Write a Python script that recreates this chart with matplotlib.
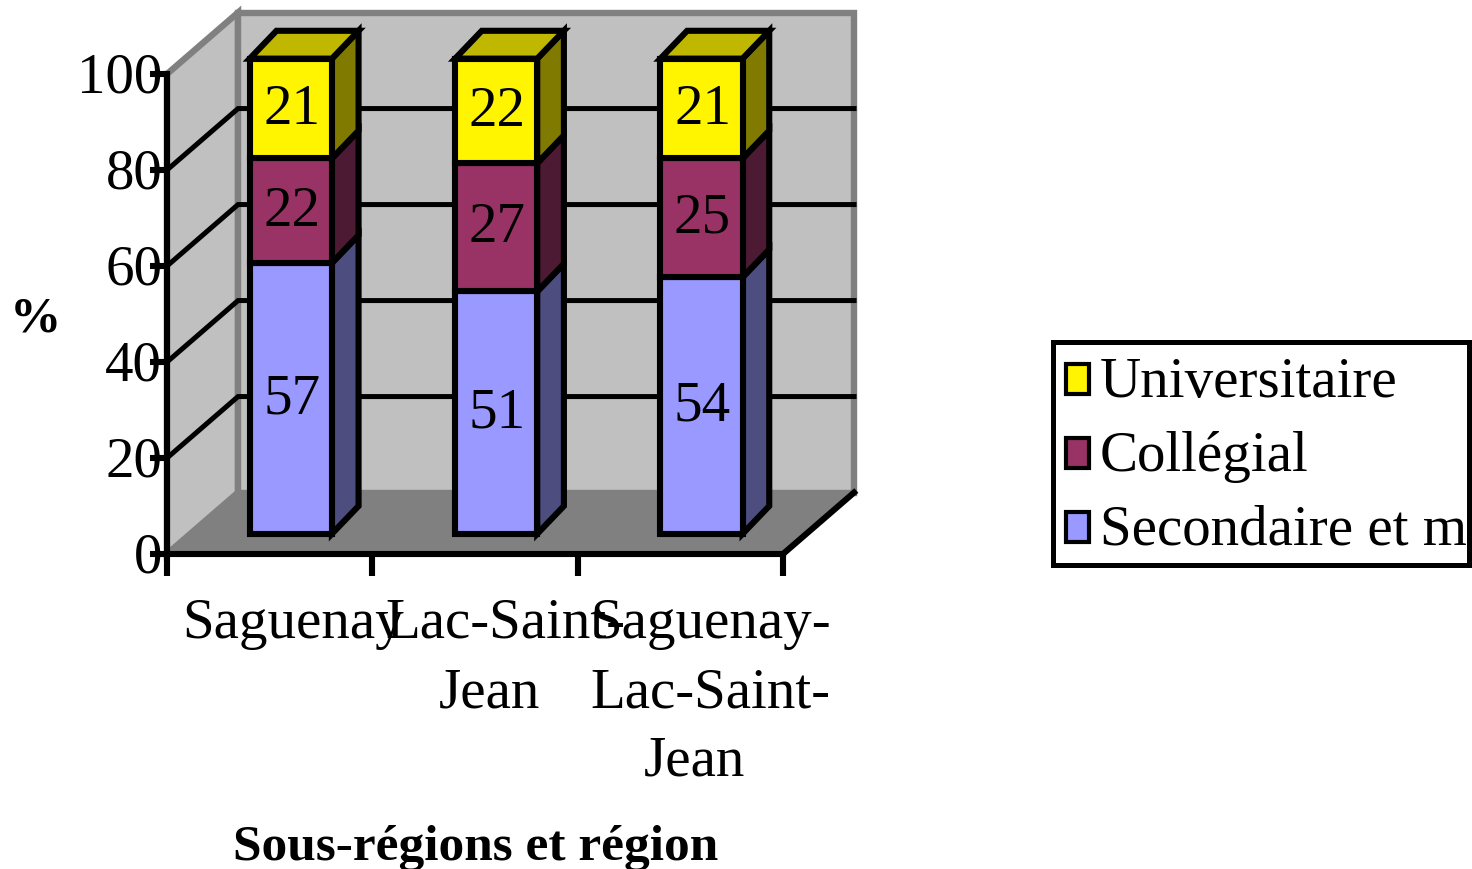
import matplotlib
matplotlib.use("Agg")
import matplotlib.pyplot as plt
from matplotlib.patches import Rectangle
from matplotlib.transforms import ScaledTranslation

plt.rcParams["font.family"] = ["Liberation Serif", "DejaVu Serif"]

categories = ["Saguenay", "Lac-Saint-\nJean", "Saguenay-\nLac-Saint-\nJean"]
secondaire = [57, 51, 54]
collegial = [22, 27, 25]
universitaire = [21, 22, 21]
series_names = ["Secondaire et m", "Collégial", "Universitaire"]
y_ticks = [0, 20, 40, 60, 80, 100]

front_colors = ["#9999ff", "#993366", "#fff500"]
side_colors = ["#4d4d80", "#4d1a33", "#807b00"]
top_color = "#c0b800"

W, H = 1472, 870
LW = 4.4
FS = 41

# 3d look: shear of the back plane and of the bars, in data units
wall_dx, wall_dy = 0.346, 12.8
bar_dx, bar_dy = 0.13, 5.8
bar_base = 4.2
bar_scale = 0.99
bar_width = 0.40
bar_shift = 0.603

fig = plt.figure(figsize=(W / 100, H / 100), dpi=100)
ax = fig.add_axes([167 / W, 1 - 555 / H, 616 / W, 480 / H])
ax.set_xlim(0, 3)
ax.set_ylim(0, 100)
ax.patch.set_visible(False)
ax.spines["top"].set_visible(False)
ax.spines["right"].set_visible(False)
ax.spines["left"].set_linewidth(LW)
ax.spines["bottom"].set_linewidth(LW)

# walls and floor
ax.fill([0, wall_dx, wall_dx, 0], [0, wall_dy, 100 + wall_dy, 100], fc="#c0c0c0", ec="#808080", lw=4.6, zorder=1, clip_on=False)
ax.fill([wall_dx, 3 + wall_dx, 3 + wall_dx, wall_dx], [wall_dy, wall_dy, 100 + wall_dy, 100 + wall_dy], fc="#c0c0c0", ec="#808080", lw=4.6, zorder=1, clip_on=False)
ax.fill([0, 3, 3 + wall_dx, wall_dx], [0, 0, wall_dy, wall_dy], fc="#808080", ec="#808080", lw=1, zorder=1.2, clip_on=False)
ax.plot([3, 3 + wall_dx], [0, wall_dy], color="black", lw=LW, zorder=1.3, clip_on=False)

# gridlines
for t in y_ticks[1:-1]:
    ax.plot([0, wall_dx, 3 + wall_dx], [t, t + wall_dy, t + wall_dy], color="black", lw=3.6, zorder=1.5, clip_on=False, solid_joinstyle="miter")

# stacked bars with side and top faces
positions = [i + bar_shift for i in range(len(categories))]
bottoms = [bar_base] * len(categories)
for k, values in enumerate([secondaire, collegial, universitaire]):
    heights = [v * bar_scale for v in values]
    bars = ax.bar(positions, heights, bar_width, bottom=bottoms, color=front_colors[k], edgecolor="black", linewidth=LW, zorder=5)
    for b in bars:
        b.set_clip_on(False)
    for p, b, h, v in zip(positions, bottoms, heights, values):
        right = p + bar_width / 2
        ax.fill([right, right + bar_dx, right + bar_dx, right], [b, b + bar_dy, b + h + bar_dy, b + h], fc=side_colors[k], ec="black", lw=LW, zorder=4, joinstyle="miter", clip_on=False)
        ax.text(p + 0.005, b + h / 2, str(v), ha="center", va="center", fontsize=FS, color="black", zorder=6)
        if k == 2:
            left = p - bar_width / 2
            ax.fill([left, right, right + bar_dx, left + bar_dx], [b + h, b + h, b + h + bar_dy, b + h + bar_dy], fc=top_color, ec="black", lw=LW, zorder=4, joinstyle="miter", clip_on=False)
    bottoms = [b + h for b, h in zip(bottoms, heights)]

# axes
ax.set_yticks(y_ticks)
ax.set_xticks([0, 1, 2, 3])
ax.set_xticklabels([])
ax.tick_params(axis="y", length=12, width=LW, labelsize=FS, pad=-8.5)
ax.tick_params(axis="x", length=16, width=LW)
up = ScaledTranslation(0, 2.5 / 100, fig.dpi_scale_trans)
for lab in ax.get_yticklabels():
    lab.set_transform(lab.get_transform() + up)

# one text per line: Excel pushes lines ending in a hyphen to the right
for i, cat in enumerate(categories):
    lines = cat.split("\n")
    for j, line in enumerate(lines):
        if len(lines) == 1:
            shift = 3
        elif line.endswith("-"):
            shift = 10
        else:
            shift = -6
        fig.text((167 + (i + 0.6) * 205.33 + shift) / W, 1 - (624 + 69 * j) / H, line, ha="center", va="center", fontsize=FS)

fig.text(35 / W, 1 - 320 / H, "%", ha="center", va="center", fontsize=37, fontweight="bold")
fig.text(476 / W, 1 - 848 / H, "Sous-régions et région", ha="center", va="center", fontsize=37, fontweight="bold")


def px_rect(x0, y0, x1, y1, **kw):
    r = Rectangle((x0 / W, 1 - y1 / H), (x1 - x0) / W, (y1 - y0) / H, transform=fig.transFigure, **kw)
    fig.add_artist(r)
    return r


# legend box, cuts its last label like the original
frame = px_rect(1053, 342.5, 1468.5, 565.5, fc="white", ec="black", lw=3.6, joinstyle="miter")
for row, k in enumerate([2, 1, 0]):
    base = 397 + 74 * row
    px_rect(1066, base - 32, 1089, base - 2, fc=front_colors[k], ec="black", lw=3.0, joinstyle="miter")
    t = fig.text(1100 / W, 1 - base / H, series_names[k], ha="left", va="baseline", fontsize=FS)
    t.set_clip_path(px_rect(1053, 342.5, 1466, 565.5, fc="none", ec="none"))

fig.savefig("out.png", dpi=100)
